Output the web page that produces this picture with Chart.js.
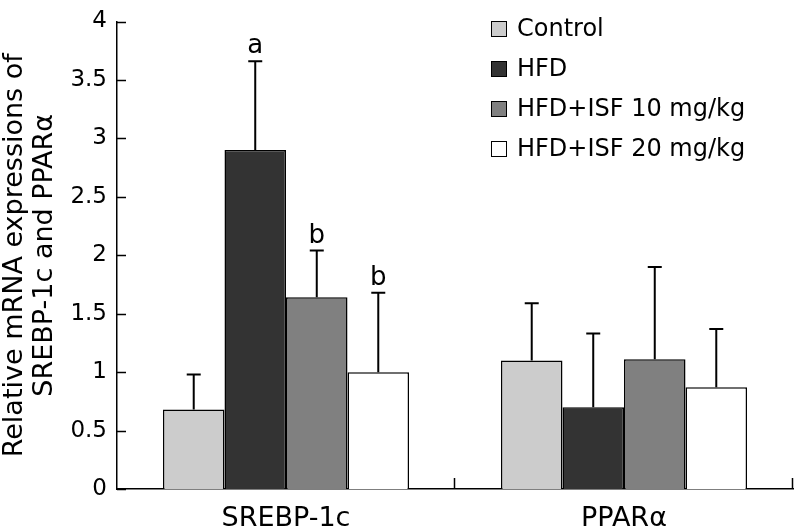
<!DOCTYPE html>
<html>
<head>
<meta charset="utf-8">
<script src="https://cdn.jsdelivr.net/npm/chart.js@4.4.1/dist/chart.umd.min.js"></script>
<style>
  html, body { margin: 0; padding: 0; background: #fff; }
  #wrap { width: 795px; height: 528px; }
</style>
</head>
<body>
<div id="wrap"><canvas id="grafico" width="795" height="528"></canvas></div>
<script>
// datos
const categorias = ['SREBP-1c', 'PPARα'];
const grupos = ['Control', 'HFD', 'HFD+ISF 10 mg/kg', 'HFD+ISF 20 mg/kg'];
const control = [0.68, 1.10];
const hfd = [2.90, 0.70];
const isf10 = [1.64, 1.11];
const isf20 = [1.00, 0.87];
const errControl = [0.30, 0.49];
const errHfd = [0.76, 0.63];
const errIsf10 = [0.40, 0.79];
const errIsf20 = [0.68, 0.50];
const letras = [['', ''], ['a', ''], ['b', ''], ['b', '']];
const ticksY = [0, 0.5, 1, 1.5, 2, 2.5, 3, 3.5, 4];

const colores = ['#cccccc', '#333333', '#808080', '#ffffff'];
const valores = [control, hfd, isf10, isf20];
const errores = [errControl, errHfd, errIsf10, errIsf20];
const fuente = 'DejaVu Sans, Verdana, sans-serif';

// barras de error hacia arriba + letras de significancia
const erroresPlugin = {
  id: 'errores',
  afterDatasetsDraw(chart) {
    const ctx = chart.ctx;
    const y = chart.scales.y;
    ctx.save();
    ctx.strokeStyle = '#000';
    ctx.lineWidth = 2;
    valores.forEach(function (serie, d) {
      const meta = chart.getDatasetMeta(d);
      serie.forEach(function (v, i) {
        const bar = meta.data[i];
        const yTop = y.getPixelForValue(v + errores[d][i]);
        ctx.beginPath();
        ctx.moveTo(bar.x, bar.y);
        ctx.lineTo(bar.x, yTop);
        ctx.moveTo(bar.x - 7, yTop);
        ctx.lineTo(bar.x + 7, yTop);
        ctx.stroke();
        if (letras[d][i]) {
          ctx.fillStyle = '#000';
          ctx.font = '26px ' + fuente;
          ctx.textAlign = 'center';
          ctx.textBaseline = 'alphabetic';
          ctx.fillText(letras[d][i], bar.x, yTop - 8);
        }
      });
    });
    ctx.restore();
  }
};

// marcas de los ejes hacia adentro
const marcasPlugin = {
  id: 'marcas',
  afterDraw(chart) {
    const ctx = chart.ctx;
    const area = chart.chartArea;
    const x = chart.scales.x;
    const y = chart.scales.y;
    ctx.save();
    ctx.strokeStyle = '#000';
    ctx.lineWidth = 1.5;
    ctx.beginPath();
    ticksY.forEach(function (t) {
      const py = Math.round(y.getPixelForValue(t)) + 0.5;
      ctx.moveTo(area.left, py);
      ctx.lineTo(area.left + 9, py);
    });
    const mitad = (x.getPixelForValue(1) - x.getPixelForValue(0)) / 2;
    categorias.forEach(function (c, i) {
      const px = Math.round(x.getPixelForValue(i) + mitad) - 0.5;
      ctx.moveTo(px, area.bottom);
      ctx.lineTo(px, area.bottom - 11);
    });
    ctx.stroke();
    ctx.restore();
  }
};

// leyenda dentro del area
const leyendaPlugin = {
  id: 'leyenda',
  afterDraw(chart) {
    const ctx = chart.ctx;
    ctx.save();
    ctx.font = '24px ' + fuente;
    ctx.textBaseline = 'middle';
    ctx.textAlign = 'left';
    grupos.forEach(function (g, i) {
      const cy = 29 + i * 40;
      ctx.fillStyle = colores[i];
      ctx.fillRect(491, cy - 8, 16, 16);
      ctx.strokeStyle = '#000';
      ctx.lineWidth = 1;
      ctx.strokeRect(491.5, cy - 7.5, 15, 15);
      ctx.fillStyle = '#000';
      ctx.fillText(g, 517, cy + 1);
    });
    ctx.restore();
  }
};

const ctx = document.getElementById('grafico');
new Chart(ctx, {
  type: 'bar',
  data: {
    labels: categorias,
    datasets: grupos.map(function (g, i) {
      return {
        label: g,
        data: valores[i],
        backgroundColor: colores[i],
        borderColor: '#000',
        borderWidth: 1.5,
        categoryPercentage: 0.728,
        barPercentage: 1
      };
    })
  },
  options: {
    responsive: false,
    animation: false,
    devicePixelRatio: 1,
    layout: { padding: { top: 12, right: 2, left: 0, bottom: 0 } },
    plugins: {
      legend: { display: false },
      tooltip: { enabled: false }
    },
    scales: {
      x: {
        grid: { display: false, drawTicks: false },
        border: { display: true, color: '#000', width: 1.5 },
        ticks: { color: '#000', font: { family: fuente, size: 27, lineHeight: 1 }, padding: 16 },
        afterFit: function (s) { s.height = 39; }
      },
      y: {
        min: 0,
        max: 4,
        afterBuildTicks: function (s) { s.ticks = ticksY.map(function (v) { return { value: v }; }); },
        grid: { display: false, drawTicks: false },
        border: { display: true, color: '#000', width: 1.5 },
        ticks: {
          color: '#000',
          padding: 10,
          font: { family: fuente, size: 23, lineHeight: 1 },
          callback: function (v) { return String(v); }
        },
        title: {
          display: true,
          text: ['Relative mRNA expressions of', 'SREBP-1c and PPARα'],
          color: '#000',
          font: { family: fuente, size: 27, lineHeight: 1.11 },
          padding: 0
        },
        afterFit: function (s) { s.width = 117; }
      }
    }
  },
  plugins: [erroresPlugin, marcasPlugin, leyendaPlugin]
});
</script>
</body>
</html>
